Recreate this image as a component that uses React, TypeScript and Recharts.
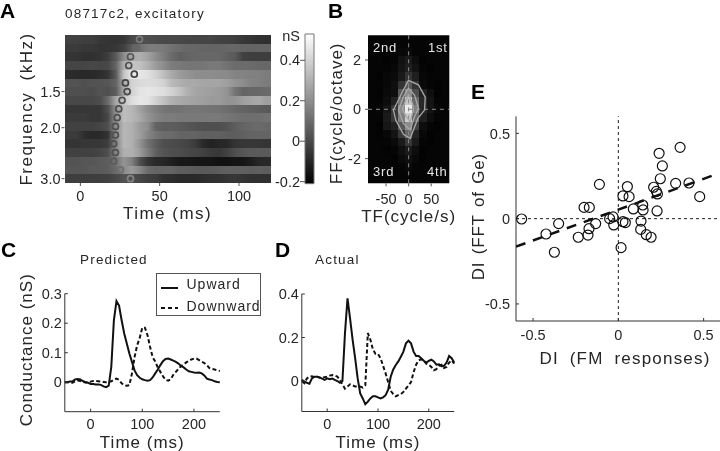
import {
  Legend,
  Line,
  LineChart,
  ReferenceArea,
  ReferenceLine,
  Scatter,
  ScatterChart,
  XAxis,
  YAxis,
} from "recharts";

const W = 720;
const H = 451;
const FONT = '"Liberation Sans", Arial, sans-serif';
const INK = "#262626";

// Panel A: conductance (nS), one row per frequency, columns every 5 ms
const aTimes = [-7.5, -2.5, 2.5, 7.5, 12.5, 17.5, 22.5, 27.5, 32.5, 37.5, 42.5, 47.5, 52.5, 57.5, 62.5, 67.5, 72.5, 77.5, 82.5, 87.5, 92.5, 97.5, 102.5, 107.5, 112.5, 117.5];
const aFreqs = [0.99, 1.061, 1.137, 1.219, 1.306, 1.4, 1.5, 1.608, 1.723, 1.847, 1.979, 2.121, 2.274, 2.437, 2.612, 2.799, 3.0];
const aRows = [
  [-0.02, -0.02, -0.03, -0.03, -0.05, -0.06, -0.06, -0.05, 0, 0.02, 0.02, 0.01, 0, 0, 0, -0.01, -0.01, -0.01, -0.01, -0.02, -0.02, -0.03, -0.05, -0.06, -0.07, -0.07],
  [-0.04, -0.04, -0.05, -0.05, -0.06, -0.06, -0.05, -0.02, 0.05, 0.11, 0.15, 0.15, 0.14, 0.12, 0.1, 0.09, 0.09, 0.08, 0.08, 0.08, 0.09, 0.09, 0.08, 0.08, 0.08, 0.08],
  [-0.06, -0.06, -0.07, -0.07, -0.06, -0.03, 0.05, 0.2, 0.28, 0.3, 0.26, 0.2, 0.15, 0.1, 0.07, 0.08, 0.09, 0.09, 0.09, 0.09, 0.07, 0.05, -0.02, -0.03, -0.03, -0.03],
  [-0.01, -0.01, -0.01, 0, -0.01, 0, 0.08, 0.3, 0.36, 0.35, 0.3, 0.24, 0.2, 0.15, 0.14, 0.13, 0.13, 0.13, 0.14, 0.14, 0.12, 0.1, 0.1, 0.1, 0.09, 0.09],
  [-0.08, -0.09, -0.09, -0.09, -0.08, -0.06, 0.05, 0.36, 0.46, 0.46, 0.44, 0.4, 0.34, 0.28, 0.24, 0.22, 0.2, 0.2, 0.2, 0.19, 0.19, 0.17, 0.17, 0.16, 0.16, 0.15],
  [0.03, 0.03, 0.02, 0.03, 0.03, 0.04, 0.08, 0.28, 0.4, 0.42, 0.43, 0.42, 0.4, 0.33, 0.3, 0.28, 0.28, 0.27, 0.27, 0.27, 0.25, 0.22, 0.2, 0.17, 0.16, 0.15],
  [0.02, 0.02, 0.02, 0.01, 0.03, 0.02, 0.06, 0.28, 0.4, 0.45, 0.46, 0.45, 0.43, 0.4, 0.36, 0.3, 0.27, 0.26, 0.25, 0.24, 0.22, 0.13, 0.08, 0.09, 0.09, 0.1],
  [0, 0, 0, 0, 0.01, 0.1, 0.28, 0.36, 0.43, 0.46, 0.45, 0.4, 0.35, 0.3, 0.28, 0.27, 0.26, 0.25, 0.24, 0.24, 0.22, 0.22, 0.25, 0.27, 0.28, 0.25],
  [-0.05, -0.05, -0.05, -0.05, -0.05, 0.02, 0.22, 0.34, 0.32, 0.26, 0.2, 0.16, 0.13, 0.12, 0.12, 0.13, 0.13, 0.13, 0.12, 0.12, 0.11, 0.09, 0.08, 0.07, 0.06, 0.05],
  [-0.04, -0.04, -0.04, -0.05, -0.05, 0, 0.22, 0.34, 0.32, 0.28, 0.22, 0.18, 0.15, 0.15, 0.14, 0.14, 0.14, 0.14, 0.14, 0.14, 0.13, 0.12, 0.11, 0.11, 0.11, 0.12],
  [-0.02, -0.02, -0.02, -0.02, -0.01, 0.02, 0.2, 0.32, 0.3, 0.24, 0.2, 0.08, 0.06, 0.06, 0.05, 0.04, 0.03, 0.02, 0.02, 0.02, 0.03, 0.06, 0.08, 0.09, 0.1, 0.09],
  [-0.04, -0.04, -0.08, -0.09, -0.09, -0.06, 0.2, 0.32, 0.3, 0.25, 0.18, 0.13, 0.1, 0.1, 0.08, 0.08, 0.08, 0.07, 0.07, 0.07, 0.06, 0.06, 0.07, 0.08, 0.08, 0.08],
  [-0.06, -0.06, -0.05, -0.05, -0.05, -0.03, 0.18, 0.32, 0.3, 0.22, 0.12, 0.06, 0.02, 0.01, 0, -0.01, -0.04, -0.09, -0.11, -0.1, -0.09, -0.06, -0.05, -0.05, -0.05, -0.06],
  [-0.02, -0.02, -0.02, -0.02, -0.01, 0.02, 0.18, 0.3, 0.3, 0.24, 0.15, 0.07, 0.03, 0.02, 0.01, 0, -0.01, -0.02, -0.04, -0.05, -0.02, 0.02, 0.04, 0.05, 0.05, 0.05],
  [0.03, 0.03, 0.04, 0.04, 0.05, 0.06, 0.12, 0.22, 0.16, 0.02, -0.06, -0.09, -0.1, -0.12, -0.14, -0.14, -0.15, -0.15, -0.15, -0.16, -0.16, -0.15, -0.15, -0.13, -0.1, -0.09],
  [0.04, 0.04, 0.04, 0.05, 0.05, 0.06, 0.1, 0.2, 0.24, 0.18, 0.1, 0.08, 0.08, 0.08, 0.06, 0.06, 0.05, 0.05, 0.05, 0.06, 0.07, 0.07, 0.07, 0.06, 0.07, 0.06],
  [-0.03, -0.03, -0.03, -0.03, -0.03, -0.02, 0, 0.03, 0.02, -0.01, -0.03, -0.04, -0.07, -0.08, -0.09, -0.09, -0.09, -0.08, -0.07, -0.07, -0.06, -0.05, -0.06, -0.07, -0.07, -0.07],
];
const aPeakTimes = [37.3, 35, 31.6, 30.5, 34, 28.4, 29.5, 26.3, 24.2, 23.2, 22.1, 22.1, 21, 22.1, 21, 25.3, 31.6];
const aPeakInk = ["#7a7a7a", "#666", "#555", "#505050", "#444", "#444", "#484848", "#505050", "#505050", "#505050", "#505050", "#505050", "#505050", "#505050", "#5a5a5a", "#6e6e6e", "#828282"];
const aPeaks = aFreqs.map((f, i) => ({ t: aPeakTimes[i], f, ink: aPeakInk[i] }));
const barLimits = [-0.21, 0.53];
const barEnds = barLimits.map((y) => ({ x: 0.5, y }));

// Panel B: spectrum amplitude, rows top to bottom
const bTF = [-64, -48, -32, -16, 0, 16, 32, 48, 64];
const bFF = [2.33, 2, 1.67, 1.33, 1, 0.67, 0.33, 0, -0.33, -0.67, -1, -1.33, -1.67, -2, -2.33];
const bCells = [
  [0, 0, 0.02, 0.03, 0.04, 0.02, 0, 0, 0],
  [0, 0.01, 0.02, 0.07, 0.1, 0.05, 0.01, 0, 0],
  [0, 0.02, 0.03, 0.08, 0.12, 0.07, 0.02, 0.01, 0],
  [0.01, 0.03, 0.04, 0.1, 0.2, 0.12, 0.03, 0.02, 0],
  [0.02, 0.03, 0.06, 0.2, 0.35, 0.2, 0.04, 0.02, 0.01],
  [0.01, 0.04, 0.06, 0.35, 0.55, 0.3, 0.13, 0.06, 0.01],
  [0.02, 0.05, 0.13, 0.45, 0.78, 0.42, 0.16, 0.08, 0.02],
  [0.03, 0.08, 0.22, 0.55, 0.92, 0.5, 0.16, 0.08, 0.03],
  [0.02, 0.1, 0.22, 0.5, 0.8, 0.4, 0.12, 0.05, 0.02],
  [0.01, 0.09, 0.13, 0.35, 0.55, 0.25, 0.05, 0.02, 0.01],
  [0.01, 0.03, 0.08, 0.22, 0.4, 0.14, 0.03, 0.01, 0],
  [0, 0.02, 0.04, 0.1, 0.22, 0.1, 0.02, 0.01, 0],
  [0, 0.01, 0.02, 0.06, 0.1, 0.05, 0.01, 0, 0],
  [0, 0, 0.01, 0.04, 0.06, 0.03, 0.01, 0, 0],
  [0, 0, 0.01, 0.02, 0.04, 0.02, 0, 0, 0],
];
const bOuter = [
  { tf: -0.4, ff: 1.17 }, { tf: 21.8, ff: 0.99 }, { tf: 36.7, ff: 0.49 }, { tf: 35.2, ff: -0.03 }, { tf: 20.4, ff: -0.37 }, { tf: 3.3, ff: -1.18 },
  { tf: -11.5, ff: -1.01 }, { tf: -28.5, ff: -0.44 }, { tf: -33.7, ff: -0.03 }, { tf: -22.6, ff: 0.38 }, { tf: -11.5, ff: 0.79 },
];
const bMiddle = [
  { tf: -0.4, ff: 0.86 }, { tf: 13, ff: 0.58 }, { tf: 21.8, ff: 0.04 }, { tf: 13, ff: -0.3 }, { tf: 3.3, ff: -0.84 }, { tf: -11.5, ff: -0.57 }, { tf: -22.6, ff: -0.03 }, { tf: -11.5, ff: 0.51 },
];
const bInner = [
  { tf: -0.4, ff: 0.58 }, { tf: 8.5, ff: 0.24 }, { tf: 10.7, ff: -0.03 }, { tf: 3.3, ff: -0.51 }, { tf: -7.8, ff: -0.23 }, { tf: -13.7, ff: 0 }, { tf: -7.8, ff: 0.31 },
];

// Panels C and D: traces every 5 ms
const traceTimes = [-50, -45, -40, -35, -30, -25, -20, -15, -10, -5, 0, 5, 10, 15, 20, 25, 30, 35, 40, 45, 50, 55, 60, 65, 70, 75, 80, 85, 90, 95, 100, 105, 110, 115, 120, 125, 130, 135, 140, 145, 150, 155, 160, 165, 170, 175, 180, 185, 190, 195, 200, 205, 210, 215, 220, 225, 230, 235, 240, 245, 250];
const predictedUp = [0, 0, 0.002, 0.003, 0.009, 0.011, 0.009, 0.004, 0, -0.002, -0.006, -0.006, -0.008, -0.008, -0.009, -0.014, -0.017, -0.012, 0.052, 0.21, 0.275, 0.26, 0.21, 0.165, 0.131, 0.097, 0.069, 0.04, 0.024, 0.015, 0.01, 0.007, 0.005, 0.007, 0.016, 0.03, 0.043, 0.058, 0.071, 0.079, 0.08, 0.077, 0.073, 0.069, 0.063, 0.055, 0.05, 0.043, 0.037, 0.035, 0.033, 0.032, 0.033, 0.03, 0.023, 0.012, 0.009, 0.007, 0.003, 0.001, 0];
const predictedDown = [0, 0, 0, -0.002, 0.003, 0.006, 0.004, 0.001, -0.001, 0, 0.002, 0.004, 0.004, 0.003, 0.002, 0.001, 0, 0.001, 0.003, 0.008, 0.012, 0.008, -0.004, -0.01, -0.012, -0.01, 0.03, 0.085, 0.125, 0.15, 0.185, 0.185, 0.16, 0.12, 0.085, 0.07, 0.05, 0.035, 0.02, 0.008, 0.005, 0.01, 0.025, 0.035, 0.045, 0.055, 0.06, 0.067, 0.072, 0.077, 0.08, 0.08, 0.075, 0.07, 0.065, 0.058, 0.048, 0.045, 0.043, 0.04, 0.038];
const actualUp = [0.005, -0.003, -0.008, -0.012, 0.012, 0.02, 0.02, 0.017, 0.011, 0.005, 0.012, 0.008, 0.011, 0.005, 0, -0.008, 0, 0.22, 0.38, 0.288, 0.19, 0.105, 0.012, -0.057, -0.08, -0.107, -0.095, -0.08, -0.07, -0.07, -0.075, -0.08, -0.075, -0.065, -0.04, 0.02, 0.053, 0.074, 0.09, 0.112, 0.135, 0.173, 0.185, 0.173, 0.135, 0.115, 0.115, 0.105, 0.093, 0.085, 0.093, 0.098, 0.09, 0.075, 0.077, 0.068, 0.07, 0.085, 0.115, 0.105, 0.085];
const actualDown = [0, -0.01, 0.012, 0.02, 0.022, 0.018, 0.02, 0.015, 0.015, 0.018, 0.02, 0.025, 0.028, 0.025, 0.02, 0.005, -0.015, -0.035, -0.025, -0.015, -0.02, -0.025, -0.025, -0.025, -0.03, -0.02, 0.22, 0.19, 0.145, 0.125, 0.125, 0.105, 0.07, 0.035, -0.005, -0.045, -0.06, -0.07, -0.065, -0.06, -0.05, -0.035, -0.02, -0.005, 0.04, 0.075, 0.095, 0.1, 0.095, 0.08, 0.075, 0.065, 0.05, 0.055, 0.07, 0.075, 0.06, 0.065, 0.085, 0.095, 0.08];
const predictedRows = traceTimes.map((t, i) => ({ t, up: predictedUp[i], down: predictedDown[i] }));
const actualRows = traceTimes.map((t, i) => ({ t, up: actualUp[i], down: actualDown[i] }));

// Panel E: direction index per neuron
const diFM = [-0.567, -0.35, -0.424, -0.375, -0.235, -0.178, -0.172, -0.133, -0.201, -0.17, -0.111, -0.051, -0.031, -0.027, 0.016, 0.027, 0.041, 0.027, 0.063, 0.053, 0.088, 0.143, 0.145, 0.133, 0.131, 0.164, 0.192, 0.227, 0.207, 0.223, 0.229, 0.246, 0.258, 0.239, 0.362, 0.336, 0.414, 0.477];
const diGe = [-0.002, -0.029, -0.09, -0.197, -0.109, -0.096, -0.059, -0.029, 0.066, 0.066, 0.201, 0, 0.01, -0.037, -0.17, -0.018, -0.023, 0.133, 0.129, 0.188, 0.057, 0.08, 0.051, -0.014, -0.063, -0.094, -0.109, 0.045, 0.184, 0.16, 0.145, 0.234, 0.309, 0.383, 0.418, 0.207, 0.209, 0.129];
const diPoints = diFM.map((x, i) => ({ x, y: diGe[i] }));
const diFit = [{ x: -0.6, y: -0.164 }, { x: 0.59, y: 0.266 }];

const aMin = 0.9562;
const aMax = 3.106;
const halfRow = 1.0353; // half a 0.1 octave row

const nsGray = (v: number) => {
  const g = Math.round(Math.max(0, Math.min(1, (v + 0.21) / 0.74)) * 255);
  return `rgb(${g},${g},${g})`;
};
const ampGray = (v: number) => {
  const g = Math.round(v * 255);
  return `rgb(${g},${g},${g})`;
};

// every chart fills the page, the margins put the plot where it belongs
const box = (left: number, top: number, right: number, bottom: number, yw: number, xh: number) => ({
  left: left - yw,
  top,
  right: W - right,
  bottom: H - bottom - xh,
});

const tickStyle = { fontSize: 14.5, fill: INK, fontFamily: FONT };
const titleStyle = { fontSize: 17, fill: INK, fontFamily: FONT, letterSpacing: 1 };
const Layer = ({ children }: { children: React.ReactNode }) => (
  <div style={{ position: "absolute", left: 0, top: 0, width: W, height: H }}>{children}</div>
);
const hidePoint = () => <g />;

const legendContent = () => (
  <div
    style={{
      boxSizing: "border-box",
      width: 105,
      height: 43,
      background: "#fff",
      border: "1px solid #555",
      fontFamily: FONT,
      fontSize: 14,
      letterSpacing: 1,
      color: INK,
      position: "relative",
    }}
  >
    <svg width={20} height={42} style={{ position: "absolute", left: 4, top: 0 }}>
      <line x1={0} x2={17} y1={14} y2={14} stroke="#111" strokeWidth={2} />
      <line x1={0} x2={17} y1={34} y2={34} stroke="#111" strokeWidth={2} strokeDasharray="4 3" />
    </svg>
    <span style={{ position: "absolute", left: 30, top: 2 }}>Upward</span>
    <span style={{ position: "absolute", left: 30, top: 24 }}>Downward</span>
  </div>
);

function PanelA() {
  return (
    <ScatterChart width={W} height={H} margin={box(64.5, 35, 270.7, 183, 40, 36)}>
      <defs>
        {aRows.map((row, r) => (
          <linearGradient key={r} id={`aRow${r}`} x1="0" y1="0" x2="1" y2="0">
            {row.map((v, c) => (
              <stop key={c} offset={(aTimes[c] + 10) / 130} stopColor={nsGray(v)} />
            ))}
          </linearGradient>
        ))}
      </defs>
      <XAxis
        type="number"
        dataKey="t"
        domain={[-10, 120]}
        ticks={[0, 50, 100]}
        axisLine={false}
        tickLine={{ stroke: "#555" }}
        tickSize={3}
        tickMargin={5}
        tick={tickStyle}
        interval={0}
        height={36}
        label={{ value: "Time (ms)", position: "insideBottom", offset: 0, style: { ...titleStyle, letterSpacing: 1.5 } }}
      />
      <YAxis
        type="number"
        dataKey="f"
        scale="log"
        reversed
        allowDataOverflow
        domain={[aMin, aMax]}
        ticks={[1.5, 2, 3]}
        tickFormatter={(v: number) => v.toFixed(1)}
        axisLine={false}
        tickLine={{ stroke: "#555" }}
        tickSize={3}
        tickMargin={1}
        tick={tickStyle}
        interval={0}
        width={40}
        label={{ value: "Frequency (kHz)", angle: -90, position: "insideLeft", offset: 1, style: { ...titleStyle, textAnchor: "middle", letterSpacing: 1.5, wordSpacing: 5 } }}
      />
      {aFreqs.map((f, r) => (
        <ReferenceArea
          key={r}
          x1={-10}
          x2={120}
          y1={f / halfRow}
          y2={f * halfRow}
          fill={`url(#aRow${r})`}
          stroke="none"
          fillOpacity={1}
          ifOverflow="visible"
          shapeRendering="crispEdges"
        />
      ))}
      <Scatter
        data={aPeaks}
        isAnimationActive={false}
        shape={(p: any) => <circle cx={p.cx} cy={p.cy} r={3} fill="none" stroke={p.payload.ink} strokeWidth={1.7} />}
      />
    </ScatterChart>
  );
}

function ColorBar() {
  return (
    <ScatterChart width={W} height={H} margin={box(305, 34, 314, 183.7, 40, 0)}>
      <defs>
        <linearGradient id="cbar" x1="0" y1="1" x2="0" y2="0">
          <stop offset="0" stopColor="#000" />
          <stop offset="1" stopColor="#fff" />
        </linearGradient>
      </defs>
      <XAxis type="number" dataKey="x" domain={[0, 1]} hide />
      <YAxis
        type="number"
        dataKey="y"
        domain={barLimits}
        ticks={[-0.2, 0, 0.2, 0.4]}
        axisLine={false}
        tickLine={{ stroke: "#555" }}
        tickSize={5}
        tickMargin={0}
        tick={tickStyle}
        interval={0}
        width={40}
      />
      <ReferenceArea x1={0} x2={1} y1={barLimits[0]} y2={barLimits[1]} fill="url(#cbar)" fillOpacity={1} stroke="#777" strokeWidth={1} />
      <Scatter data={barEnds} isAnimationActive={false} shape={hidePoint} />
    </ScatterChart>
  );
}

function PanelB() {
  return (
    <ScatterChart width={W} height={H} margin={box(368, 35.3, 449.3, 183.3, 40, 39)}>
      <XAxis
        type="number"
        dataKey="tf"
        domain={[-90, 90]}
        ticks={[-50, 0, 50]}
        axisLine={false}
        tickLine={{ stroke: "#555" }}
        tickSize={3}
        tickMargin={7}
        tick={tickStyle}
        interval={0}
        height={39}
        label={{ value: "TF(cycle/s)", position: "insideBottom", offset: 0, style: titleStyle }}
      />
      <YAxis
        type="number"
        dataKey="ff"
        domain={[-3, 3]}
        ticks={[-2, 0, 2]}
        axisLine={false}
        tickLine={{ stroke: "#555" }}
        tickSize={3}
        tickMargin={4}
        tick={tickStyle}
        interval={0}
        width={40}
        label={{ value: "FF(cycle/octave)", angle: -90, position: "insideLeft", offset: 8, dy: 4, style: { ...titleStyle, textAnchor: "middle" } }}
      />
      <ReferenceArea x1={-90} x2={90} y1={-3} y2={3} fill="#050505" fillOpacity={1} stroke="none" />
      {bCells.map((row, r) =>
        row.map((v, c) =>
          v > 0 ? (
            <ReferenceArea
              key={`${r}-${c}`}
              x1={bTF[c] - 8}
              x2={bTF[c] + 8}
              y1={bFF[r] - 0.167}
              y2={bFF[r] + 0.167}
              fill={ampGray(v)}
              fillOpacity={1}
              stroke="none"
              shapeRendering="crispEdges"
            />
          ) : null
        )
      )}
      <ReferenceLine x={0} stroke="#8a8a8a" strokeDasharray="4 4" />
      <ReferenceLine y={0} stroke="#8a8a8a" strokeDasharray="4 4" />
      {[bOuter, bMiddle, bInner].map((contour, i) => (
        <Scatter
          key={i}
          data={contour}
          isAnimationActive={false}
          shape={hidePoint}
          line={{ stroke: "#a8a8a8", strokeWidth: 1.3, fill: "none" }}
          lineJointType="linearClosed"
        />
      ))}
    </ScatterChart>
  );
}

function PanelC() {
  return (
    <LineChart width={W} height={H} data={predictedRows} margin={box(64.8, 293.7, 219.8, 411.7, 45, 36)}>
      <XAxis
        type="number"
        dataKey="t"
        domain={[-50, 250]}
        ticks={[0, 100, 200]}
        stroke="#333"
        tickSize={-3}
        tickMargin={10}
        tick={tickStyle}
        interval={0}
        height={36}
        label={{ value: "Time (ms)", position: "insideBottom", offset: 0, style: titleStyle }}
      />
      <YAxis
        type="number"
        domain={[-0.1, 0.3]}
        ticks={[0, 0.1, 0.2, 0.3]}
        stroke="#333"
        tickSize={-3}
        tickMargin={6}
        tick={tickStyle}
        interval={0}
        width={45}
        label={{ value: "Conductance (nS)", angle: -90, position: "insideLeft", offset: 6, dy: -3, style: { ...titleStyle, textAnchor: "middle" } }}
      />
      <Legend
        layout="horizontal"
        verticalAlign="middle"
        content={legendContent}
        wrapperStyle={{ position: "absolute", left: 155.5, top: 272.5, width: 105, height: 43 }}
      />
      <Line dataKey="up" stroke="#111" strokeWidth={2} dot={false} isAnimationActive={false} />
      <Line dataKey="down" stroke="#111" strokeWidth={2} strokeDasharray="4 2.5" dot={false} isAnimationActive={false} />
    </LineChart>
  );
}

function PanelD() {
  return (
    <LineChart width={W} height={H} data={actualRows} margin={box(301.8, 294, 454.2, 411.5, 40, 36)}>
      <XAxis
        type="number"
        dataKey="t"
        domain={[-50, 250]}
        ticks={[0, 100, 200]}
        stroke="#333"
        tickSize={-3}
        tickMargin={10}
        tick={tickStyle}
        interval={0}
        height={36}
        label={{ value: "Time (ms)", position: "insideBottom", offset: 0, style: titleStyle }}
      />
      <YAxis
        type="number"
        domain={[-0.14, 0.4]}
        ticks={[0, 0.2, 0.4]}
        stroke="#333"
        tickSize={-3}
        tickMargin={6}
        tick={tickStyle}
        interval={0}
        width={40}
      />
      <Line dataKey="up" stroke="#111" strokeWidth={2} dot={false} isAnimationActive={false} />
      <Line dataKey="down" stroke="#111" strokeWidth={2} strokeDasharray="4 2.5" dot={false} isAnimationActive={false} />
    </LineChart>
  );
}

function PanelE() {
  return (
    <ScatterChart width={W} height={H} margin={box(516, 116.3, 720, 321, 40, 43)}>
      <XAxis
        type="number"
        dataKey="x"
        domain={[-0.6, 0.596]}
        allowDataOverflow
        ticks={[-0.5, 0, 0.5]}
        tickFormatter={(v: number) => String(v)}
        stroke="#333"
        tickSize={-3}
        tickMargin={12}
        tick={tickStyle}
        interval={0}
        height={43}
        label={{ value: "DI (FM responses)", position: "insideBottom", offset: 0, dx: 7, style: { ...titleStyle, letterSpacing: 1.2, wordSpacing: 5 } }}
      />
      <YAxis
        type="number"
        dataKey="y"
        domain={[-0.6, 0.6]}
        ticks={[-0.5, 0, 0.5]}
        stroke="#333"
        tickSize={-3}
        tickMargin={9}
        tick={tickStyle}
        interval={0}
        width={40}
        label={{ value: "DI (FFT of Ge)", angle: -90, position: "insideLeft", offset: 2, dy: -2, style: { ...titleStyle, textAnchor: "middle", letterSpacing: 0.8, wordSpacing: 2 } }}
      />
      <ReferenceLine x={0} stroke="#222" strokeDasharray="3 3" />
      <ReferenceLine y={0} stroke="#222" strokeDasharray="3 3" />
      <Scatter
        data={diFit}
        isAnimationActive={false}
        shape={hidePoint}
        line={{ stroke: "#111", strokeWidth: 2.5, strokeDasharray: "10 8" }}
      />
      <Scatter
        data={diPoints}
        isAnimationActive={false}
        shape={(p: any) => <circle cx={p.cx} cy={p.cy} r={5} fill="none" stroke="#111" strokeWidth={1.2} />}
      />
    </ScatterChart>
  );
}

export default function App() {
  return (
    <div style={{ position: "absolute", left: 0, top: 0, width: W, height: H, background: "#fff", overflow: "hidden", fontFamily: FONT, filter: "blur(0.45px)" }}>
      <Layer><PanelA /></Layer>
      <Layer><ColorBar /></Layer>
      <Layer><PanelB /></Layer>
      <Layer><PanelC /></Layer>
      <Layer><PanelD /></Layer>
      <Layer><PanelE /></Layer>
      <Layer>
        <svg width={W} height={H} style={{ fontFamily: FONT }}>
          <g fontSize={21} fontWeight="bold" fill="#000">
            <text x={0} y={18}>A</text>
            <text x={328} y={18}>B</text>
            <text x={1} y={257}>C</text>
            <text x={275} y={257}>D</text>
            <text x={471} y={99}>E</text>
          </g>
          <g fontSize={13.5} letterSpacing={1.2} fill={INK}>
            <text x={65} y={18}>08717c2, excitatory</text>
            <text x={80} y={264}>Predicted</text>
            <text x={315} y={264}>Actual</text>
          </g>
          <text x={300} y={41} textAnchor="end" fontSize={14.5} fill={INK}>nS</text>
          <g fontSize={13} letterSpacing={0.8} fill="#e6e6e6">
            <text x={373} y={52}>2nd</text>
            <text x={428} y={52}>1st</text>
            <text x={373} y={176}>3rd</text>
            <text x={427} y={176}>4th</text>
          </g>
        </svg>
      </Layer>
    </div>
  );
}
